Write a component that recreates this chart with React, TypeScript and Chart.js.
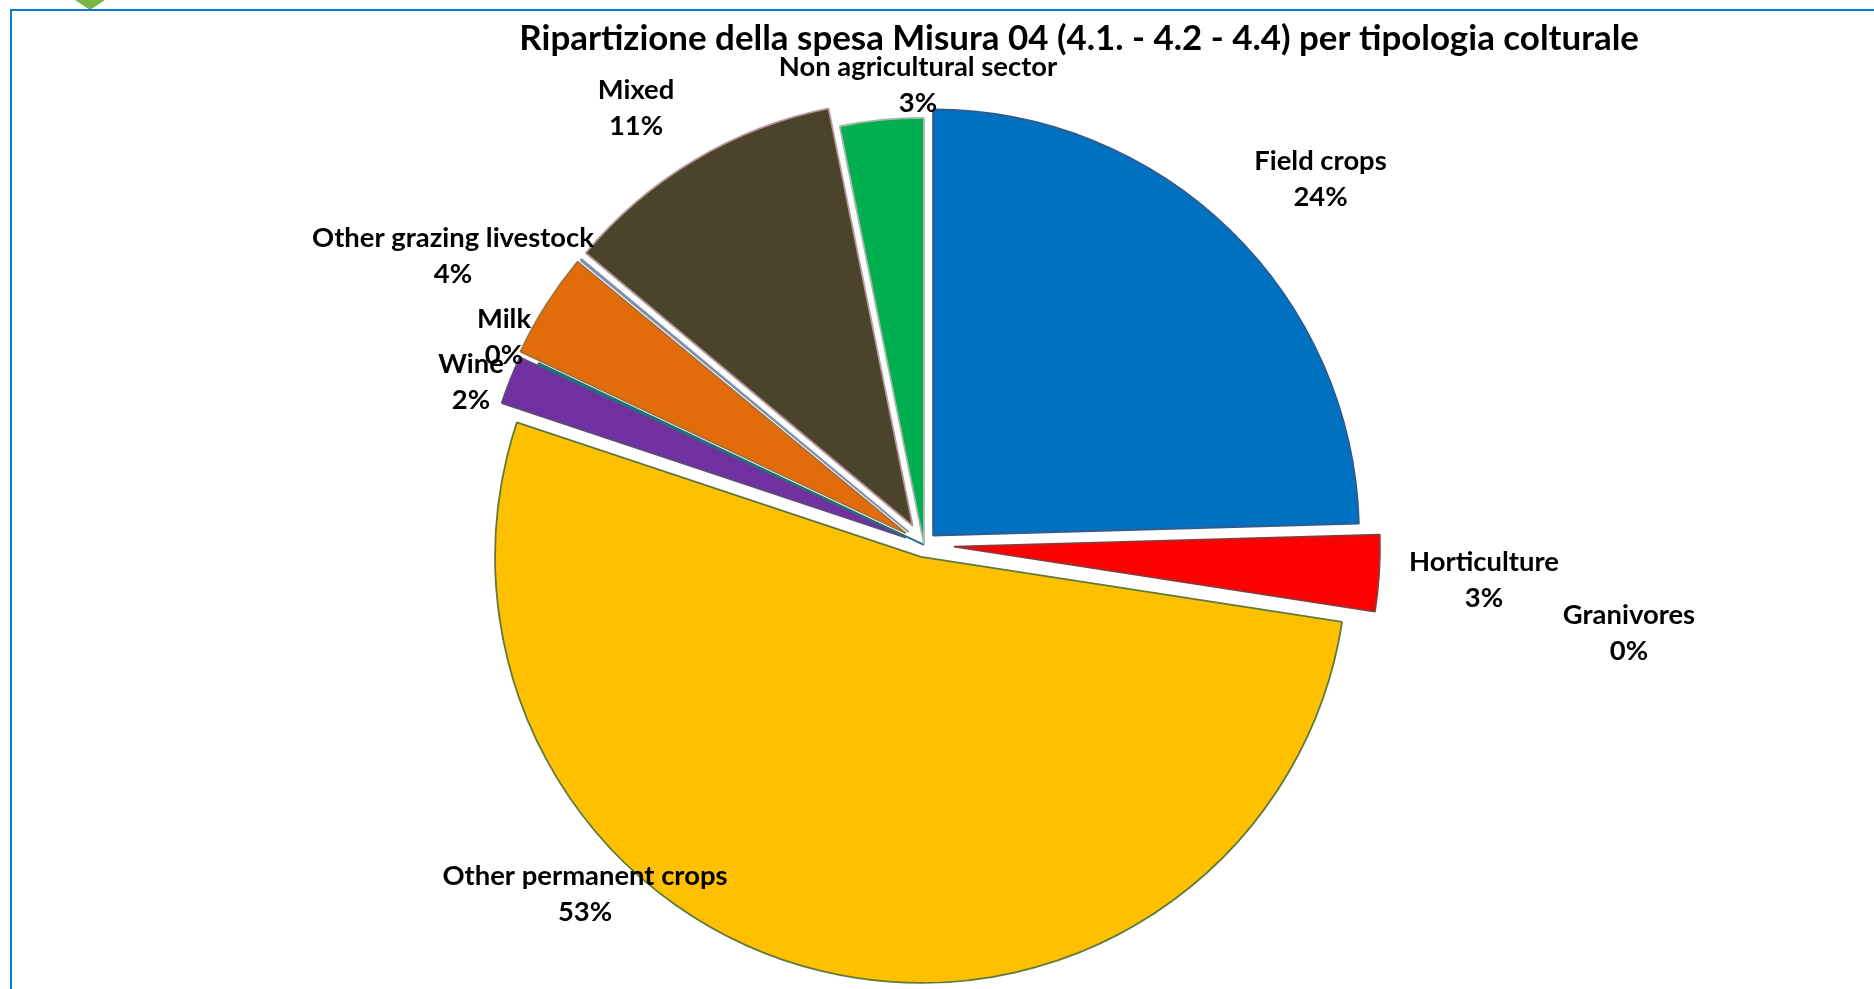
import React, { useEffect, useRef } from "react";
import { Chart, registerables } from "chart.js";

Chart.register(...registerables);

const chartTitle = "Ripartizione della spesa Misura 04 (4.1. - 4.2 - 4.4) per tipologia colturale";
const categories = ["Field crops", "Horticulture", "Other permanent crops", "Wine", "Milk", "Other grazing livestock", "Granivores", "Mixed", "Non agricultural sector"];
const shares = [24.58, 2.89, 52.74, 1.84, 0.06, 4.0, 0.06, 10.78, 3.17];
const percentLabels = ["24%", "3%", "53%", "2%", "0%", "4%", "0%", "11%", "3%"];
const fillColors = ["#0070C0", "#FF0000", "#FFC000", "#7030A0", "#00B0F0", "#E36C0A", "#8EA9DB", "#4C432C", "#00B050"];
const borderColors = ["#2F5C8F", "#8A3A3A", "#5F7A3A", "#5E4A80", "#1F6F80", "#A87035", "#7F8FB0", "#B89A9A", "#A5B5A5"];
const explode = [13, 30, 12.4, 19.5, 0, 21.6, 20, 22, 1];

const WIDTH = 1874;
const HEIGHT = 989;
const labelCenters = [
  [1320.5, 161.5], [1484, 562.5], [585, 876.5], [471, 364.5], [504, 319.5], [453, 238.5], [1629, 615.5], [636, 90.5], [918, 67.5],
];

const explodePlugin = {
  id: "explodeSlices",
  afterDatasetUpdate(chart: any) {
    const meta = chart.getDatasetMeta(0);
    meta.data.forEach((arc: any, i: number) => {
      const mid = (arc.startAngle + arc.endAngle) / 2;
      arc.x += Math.cos(mid) * explode[i];
      arc.y += Math.sin(mid) * explode[i];
    });
  },
};

const labelPlugin = {
  id: "sliceLabels",
  afterDatasetsDraw(chart: any) {
    const ctx = chart.ctx;
    ctx.save();
    ctx.font = "bold 27.4px Lato";
    ctx.fillStyle = "#000";
    ctx.textAlign = "center";
    ctx.textBaseline = "middle";
    categories.forEach((name, i) => {
      const [x, y] = labelCenters[i];
      ctx.fillText(name, x, y);
      ctx.fillText(percentLabels[i], x, y + 36);
    });
    ctx.restore();
  },
};

export default function App() {
  const ref = useRef<HTMLCanvasElement>(null);
  useEffect(() => {
    const chart = new Chart(ref.current as HTMLCanvasElement, {
      type: "pie",
      data: {
        labels: categories,
        datasets: [
          {
            data: shares,
            backgroundColor: fillColors,
            borderColor: borderColors,
            borderWidth: 1.8,
            radius: 426,
            clip: false,
          } as any,
        ],
      },
      options: {
        responsive: false,
        animation: false,
        layout: { padding: { left: 209, right: 235, top: 0, bottom: 0 } },
        plugins: {
          legend: { display: false },
          tooltip: { enabled: false },
          title: {
            display: true,
            align: "end",
            text: chartTitle,
            color: "#000",
            font: { family: "Lato", size: 34.9, weight: "bold", lineHeight: 1.2 },
            padding: { top: 18, bottom: 40.8 },
          },
        },
      } as any,
      plugins: [explodePlugin, labelPlugin],
    });
    return () => chart.destroy();
  }, []);
  return (
    <div style={{ position: "absolute", left: 0, top: 0, width: 1874, height: 989, overflow: "hidden", background: "#fff" }}>
      <div style={{ position: "absolute", left: 75, top: 0, width: 30, height: 10, background: "#7AB648", clipPath: "polygon(0 0, 100% 0, 50% 100%)" }} />
      <div style={{ position: "absolute", left: 10, top: 9, right: 0, height: 2, background: "#0A78CF" }} />
      <div style={{ position: "absolute", left: 10, top: 9, bottom: 0, width: 2, background: "#0A78CF" }} />
      <canvas ref={ref} width={WIDTH} height={HEIGHT} style={{ position: "absolute", left: 0, top: 0, display: "block" }} />
    </div>
  );
}
